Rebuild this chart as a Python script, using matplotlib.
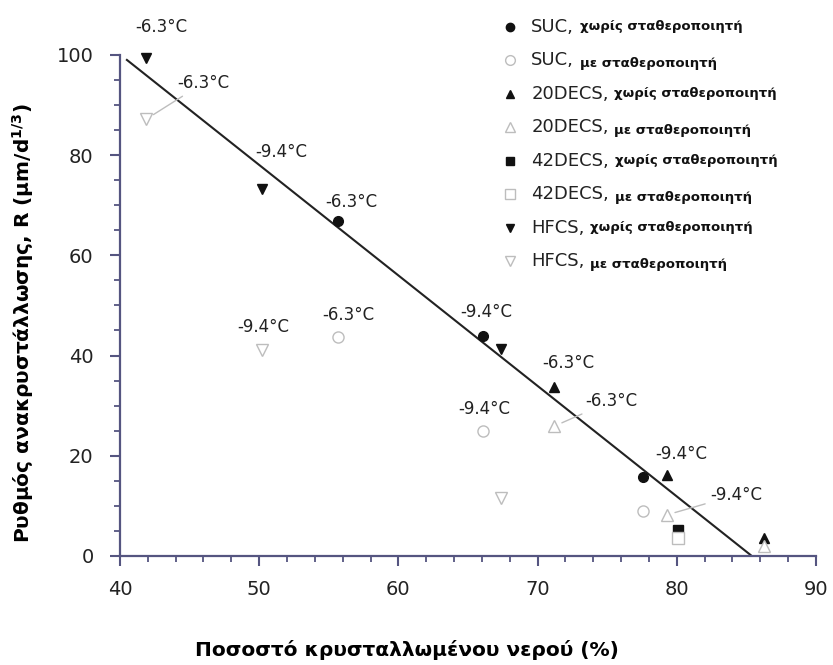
import numpy as np
import matplotlib
matplotlib.use("Agg")
import matplotlib.pyplot as plt

# ---------- data ----------
suc_x = [55.7, 66.1, 77.6]
suc_y = [66.9, 43.9, 15.8]
suc_stab_x = [55.7, 66.1, 77.6]
suc_stab_y = [43.7, 25.0, 9.0]

decs20_x = [71.2, 79.3, 86.3]
decs20_y = [33.7, 16.2, 3.6]
decs20_stab_x = [71.2, 79.3, 86.3]
decs20_stab_y = [25.9, 8.2, 2.0]

decs42_x = [80.1]
decs42_y = [5.2]
decs42_stab_x = [80.1]
decs42_stab_y = [3.6]

hfcs_x = [41.9, 50.2, 67.4]
hfcs_y = [99.4, 73.3, 41.3]
hfcs_stab_x = [41.9, 50.2, 67.4]
hfcs_stab_y = [87.2, 41.1, 11.6]

fit_x = [40.5, 85.3]
fit_y = [99.0, 0.2]

# temperature labels: (text, point x, point y, label x, label y, leader line)
temp_labels = [
    ("-6.3°C", 41.9, 99.4, 43.0, 105.6, False),
    ("-9.4°C", 50.2, 73.3, 51.6, 80.6, False),
    ("-6.3°C", 41.9, 87.2, 46.0, 94.4, True),
    ("-9.4°C", 50.2, 41.1, 50.3, 45.7, False),
    ("-6.3°C", 55.7, 66.9, 56.6, 70.7, False),
    ("-9.4°C", 66.1, 43.9, 66.3, 48.7, False),
    ("-6.3°C", 55.7, 43.7, 56.4, 48.1, False),
    ("-9.4°C", 66.1, 25.0, 66.2, 29.3, False),
    ("-6.3°C", 71.2, 33.7, 72.2, 38.5, False),
    ("-9.4°C", 79.3, 16.2, 80.3, 20.4, False),
    ("-6.3°C", 71.2, 25.9, 75.3, 30.9, True),
    ("-9.4°C", 79.3, 8.2, 84.3, 12.2, True),
]

legend_names = ["SUC,", "SUC,", "20DECS,", "20DECS,",
                "42DECS,", "42DECS,", "HFCS,", "HFCS,"]
legend_notes = ["χωρίς σταθεροποιητή", "με σταθεροποιητή"] * 4

BLACK = "#111111"
LGRAY = "#bdbdbd"
AXCOL = "#555580"

series = [
    (suc_x, suc_y, "o", True),
    (suc_stab_x, suc_stab_y, "o", False),
    (decs20_x, decs20_y, "^", True),
    (decs20_stab_x, decs20_stab_y, "^", False),
    (decs42_x, decs42_y, "s", True),
    (decs42_stab_x, decs42_stab_y, "s", False),
    (hfcs_x, hfcs_y, "v", True),
    (hfcs_stab_x, hfcs_stab_y, "v", False),
]

plt.rcParams["font.family"] = ["DejaVu Sans"]

fig = plt.figure(figsize=(8.33, 6.65), dpi=100)
ax = fig.add_axes([0.144, 0.164, 0.8355, 0.7534])

# fit line
ax.plot(fit_x, fit_y, color="#222222", lw=1.5, zorder=2)

for xs, ys, mk, filled in series:
    if filled:
        ax.plot(xs, ys, ls="none", marker=mk, ms=7, mfc=BLACK, mec=BLACK,
                clip_on=False, zorder=3)
    else:
        ax.plot(xs, ys, ls="none", marker=mk, ms=8, mfc="white", mec=LGRAY,
                mew=1.0, clip_on=False, zorder=3)

for txt, px, py, lx, ly, leader in temp_labels:
    if leader:
        ax.annotate(txt, xy=(px, py), xytext=(lx, ly), ha="center", va="center",
                    fontsize=12, color="#222222",
                    arrowprops=dict(arrowstyle="-", color=LGRAY, lw=1.0,
                                    shrinkA=2, shrinkB=6),
                    annotation_clip=False)
    else:
        ax.text(lx, ly, txt, ha="center", va="center", fontsize=12,
                color="#222222", clip_on=False)

ax.set_xlim(40, 90)
ax.set_ylim(0, 100)
ax.set_xticks(np.arange(40, 91, 10))
ax.set_xticks(np.arange(40, 91, 2), minor=True)
ax.set_yticks(np.arange(0, 101, 20))
ax.set_yticks(np.arange(0, 101, 5), minor=True)

for s in ["top", "right"]:
    ax.spines[s].set_visible(False)
for s in ["left", "bottom"]:
    ax.spines[s].set_color(AXCOL)
    ax.spines[s].set_linewidth(1.6)

ax.tick_params(which="major", direction="out", length=7, width=1.5,
               color=AXCOL, labelsize=14, labelcolor="#222222")
ax.tick_params(axis="x", which="major", pad=10)
ax.tick_params(axis="y", which="major", pad=12)
ax.tick_params(which="minor", direction="out", length=4, width=1.3,
               color=AXCOL)

ax.set_xlabel("Ποσοστό κρυσταλλωμένου νερού (%)", fontsize=14.5,
              fontweight="bold")
ax.xaxis.set_label_coords(0.412, -0.168)
ax.set_ylabel(r"Ρυθμός ανακρυστάλλωσης, R (μm/d$^{\mathbf{1/3}}$)",
              fontsize=14.5, fontweight="bold")
ax.yaxis.set_label_coords(-0.12, 0.465)

# legend (drawn by hand: two fonts per entry)
leg_x = 0.561
leg_y0 = 1.056
leg_dy = 0.0669
for i, (name, note) in enumerate(zip(legend_names, legend_notes)):
    _, _, mk, filled = series[i]
    yy = leg_y0 - i * leg_dy
    if filled:
        ax.plot([leg_x], [yy], transform=ax.transAxes, marker=mk, ms=6,
                mfc=BLACK, mec=BLACK, ls="none", clip_on=False)
    else:
        ax.plot([leg_x], [yy], transform=ax.transAxes, marker=mk, ms=7,
                mfc="white", mec=LGRAY, ls="none", clip_on=False)
    t1 = ax.text(leg_x + 0.03, yy, name, transform=ax.transAxes,
                 fontsize=13, va="center", ha="left", color="#222222")
    dy = 0 if i % 2 == 0 else -2
    ax.annotate(note, xy=(1, 0.5), xycoords=t1, xytext=(4, dy),
                textcoords="offset points", va="center", ha="left",
                fontsize=9.5, fontweight="bold", color="#111111")

fig.savefig("out.png", dpi=100)
